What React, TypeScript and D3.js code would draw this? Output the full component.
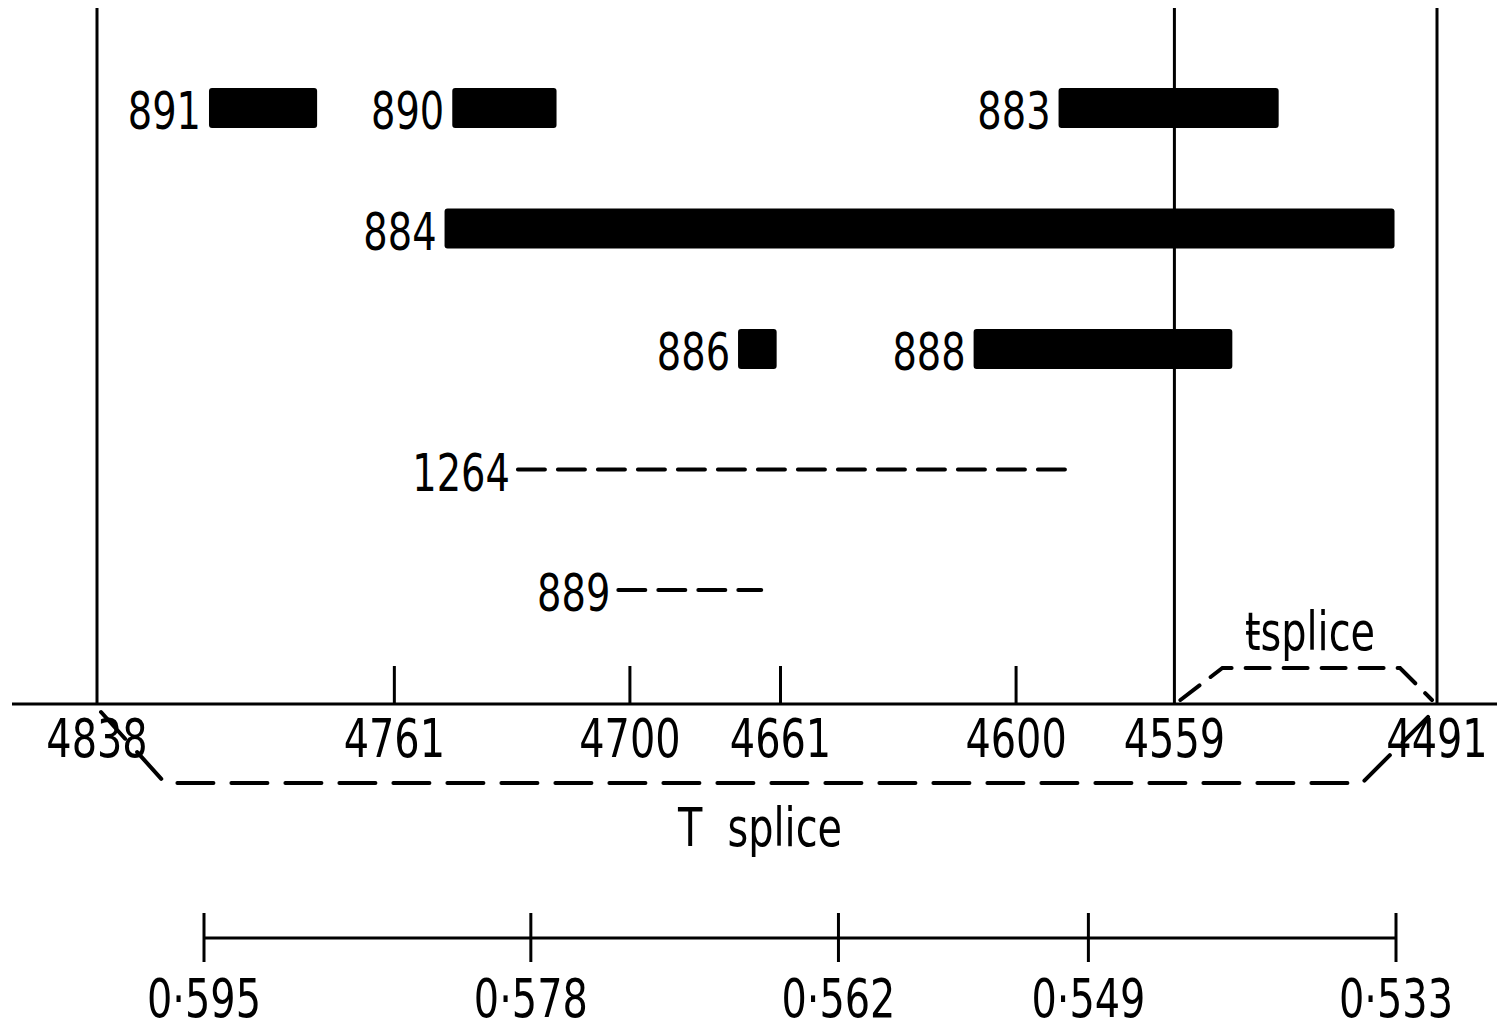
import React from "react";
import * as d3 from "d3";

// map positions (bp coordinates)
const mapTicks = [4838, 4761, 4700, 4661, 4600, 4559, 4491];
const boundaryTicks = [4838, 4559, 4491];

// deletion clones drawn as solid bars
const barLabels = ["891", "890", "883", "884", "886", "888"];
const barFrom = [4809, 4746, 4589, 4748, 4672, 4611];
const barTo = [4781, 4719, 4532, 4502, 4662, 4544];
const barRow = [0, 0, 0, 1, 2, 2];

// clones drawn as dashed lines
const dashLabels = ["1264", "889"];
const dashFrom = [4729, 4703];
const dashTo = [4584, 4666];
const dashRow = [3, 4];

// recombination scale below
const recTicks = [0.595, 0.578, 0.562, 0.549, 0.533];
const recLabels = ["0·595", "0·578", "0·562", "0·549", "0·533"];

const W = 1497;
const H = 1030;
const font = "'DejaVu Sans Condensed', 'DejaVu Sans', sans-serif";
const squeeze = 0.82;

type LabelProps = {
	x: number;
	y: number;
	size: number;
	anchor?: "start" | "middle" | "end";
	children: React.ReactNode;
};

// narrow lettering like the original stencil font
const Label = ({ x, y, size, anchor = "middle", children }: LabelProps) => (
	<text
		transform={`translate(${x},${y}) scale(${squeeze},1)`}
		textAnchor={anchor}
		fontSize={size}
		style={{ whiteSpace: "pre" }}
	>
		{children}
	</text>
);

export default function App() {
	const x = d3.scaleLinear().domain([4838, 4491]).range([97, 1437]);
	const row = d3.scaleLinear().domain([0, 4]).range([108, 590]);
	const rec = d3.scaleLinear().domain([0.595, 0.533]).range([204, 1396]);

	const axisY = 704;
	const barH = 40;

	const line = d3.line();
	const bigBracket = line([
		[x(4838) + 4, axisY + 8],
		[x(4838) + 68, 783],
		[x(4491) - 75, 783],
		[x(4491) - 4, axisY + 8],
	]);
	const smallBracket = line([
		[x(4559) + 6, axisY - 4],
		[x(4559) + 48, 668],
		[x(4491) - 37, 668],
		[x(4491) - 5, axisY - 4],
	]);

	return (
		<svg
			width={W}
			height={H}
			style={{ position: "absolute", left: 0, top: 0, background: "#fff" }}
			fontFamily={font}
		>
			{/* main axis */}
			<line x1={12} x2={W} y1={axisY} y2={axisY} stroke="#000" strokeWidth={3} />
			{boundaryTicks.map((t) => (
				<line key={"b" + t} x1={x(t)} x2={x(t)} y1={8} y2={axisY} stroke="#000" strokeWidth={3} />
			))}
			{mapTicks
				.filter((t) => !boundaryTicks.includes(t))
				.map((t) => (
					<line key={"t" + t} x1={x(t)} x2={x(t)} y1={666} y2={axisY} stroke="#000" strokeWidth={3} />
				))}
			{mapTicks.map((t) => (
				<Label key={"l" + t} x={x(t)} y={757} size={54}>
					{t}
				</Label>
			))}

			{/* bars */}
			{barLabels.map((lab, i) => {
				const x0 = x(barFrom[i]);
				const x1 = x(barTo[i]);
				const cy = row(barRow[i]);
				return (
					<g key={lab}>
						<rect x={x0} y={cy - barH / 2} width={x1 - x0} height={barH} rx={3} fill="#000" />
						<Label x={x0 - 8} y={cy + 21} size={52} anchor="end">
							{lab}
						</Label>
					</g>
				);
			})}

			{/* dashed clones */}
			{dashLabels.map((lab, i) => {
				const x0 = x(dashFrom[i]);
				const x1 = x(dashTo[i]);
				const cy = row(dashRow[i]);
				return (
					<g key={lab}>
						<line
							x1={x0}
							x2={x1}
							y1={cy}
							y2={cy}
							stroke="#000"
							strokeWidth={4}
							strokeDasharray="27 13"
							strokeLinecap="round"
						/>
						<Label x={x0 - 8} y={cy + 21} size={52} anchor="end">
							{lab}
						</Label>
					</g>
				);
			})}

			{/* splice brackets */}
			<path d={bigBracket ?? ""} fill="none" stroke="#000" strokeWidth={4} strokeDasharray="36 18" strokeLinecap="round" />
			<path d={smallBracket ?? ""} fill="none" stroke="#000" strokeWidth={4} strokeDasharray="24 14" strokeLinecap="round" />
			<Label x={760} y={846} size={54}>
				{"T  splice"}
			</Label>
			<Label x={1310} y={650} size={54}>
				ŧsplice
			</Label>

			{/* recombination scale */}
			<line x1={rec(0.595)} x2={rec(0.533)} y1={938} y2={938} stroke="#000" strokeWidth={3} />
			{recTicks.map((t, i) => (
				<g key={"r" + t}>
					<line x1={rec(t)} x2={rec(t)} y1={913} y2={962} stroke="#000" strokeWidth={3} />
					<Label x={rec(t)} y={1017} size={54}>
						{recLabels[i]}
					</Label>
				</g>
			))}
		</svg>
	);
}
